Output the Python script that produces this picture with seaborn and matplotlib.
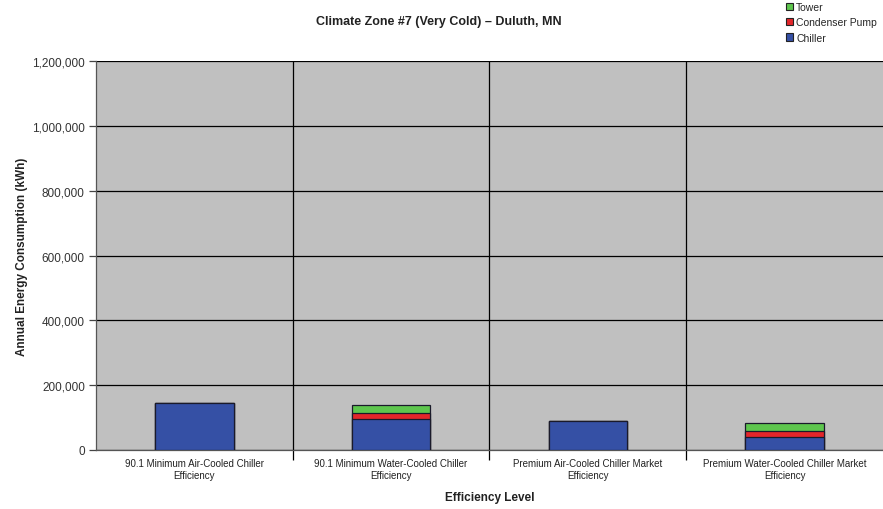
import matplotlib
matplotlib.use("Agg")
import matplotlib.pyplot as plt
from matplotlib.patches import Patch
from matplotlib.ticker import FuncFormatter, FixedLocator
import numpy as np
import pandas as pd
import seaborn as sns

# Annual energy consumption (kWh) by efficiency level
categories = [
    "90.1 Minimum Air-Cooled Chiller\nEfficiency",
    "90.1 Minimum Water-Cooled Chiller\nEfficiency",
    "Premium Air-Cooled Chiller Market\nEfficiency",
    "Premium Water-Cooled Chiller Market\nEfficiency",
]
chiller = [145000, 96000, 90000, 39000]
condenser_pump = [0, 18000, 0, 18500]
tower = [0, 25000, 0, 24500]

series_names = ["Tower", "Condenser Pump", "Chiller"]
colors = {"Chiller": "#3550A5", "Condenser Pump": "#E3262A", "Tower": "#5EC64E"}

sns.set_theme(style="white")
plt.rcParams["font.family"] = ["Liberation Sans", "DejaVu Sans"]

# Cumulative heights for stacking (drawn from tallest to shortest)
cum_chiller = np.array(chiller, dtype=float)
cum_pump = cum_chiller + np.array(condenser_pump, dtype=float)
cum_tower = cum_pump + np.array(tower, dtype=float)

df = pd.DataFrame({
    "category": categories,
    "Tower": cum_tower,
    "Condenser Pump": cum_pump,
    "Chiller": cum_chiller,
})

fig = plt.figure(figsize=(8.83, 5.10), dpi=100)
ax = fig.add_axes([0.1087, 0.1157, 0.8913, 0.7623])
ax.set_facecolor("#C0C0C0")

for name in series_names:
    sns.barplot(data=df, x="category", y=name, order=categories,
                color=colors[name], saturation=1, width=0.40,
                edgecolor="#1a1a2a", linewidth=0.9, ax=ax, zorder=3)

ax.set_ylim(0, 1200000)
ax.set_xlim(-0.5, 3.5)
ax.set_yticks(np.arange(0, 1200001, 200000))
ax.yaxis.set_major_formatter(FuncFormatter(lambda v, p: f"{int(v):,}"))
ax.yaxis.grid(True, color="black", linewidth=0.9, zorder=1)
ax.set_axisbelow(True)

# Vertical separators between categories
ax.xaxis.set_minor_locator(FixedLocator([0.5, 1.5, 2.5]))
ax.xaxis.grid(True, which="minor", color="black", linewidth=0.9)
ax.tick_params(axis="x", which="minor", length=7, width=0.9, color="black", direction="out", bottom=True)
ax.tick_params(axis="x", which="major", length=0, labelsize=7, pad=6, colors="#222222")
ax.tick_params(axis="y", which="major", length=5, width=0.9, color="#444444", direction="out",
               left=True, labelsize=8.5, pad=3, colors="#333333")

for s in ["top", "right"]:
    ax.spines[s].set_visible(False)
ax.spines["left"].set_color("#555555")
ax.spines["bottom"].set_color("#555555")
ax.spines["left"].set_linewidth(0.9)
ax.spines["bottom"].set_linewidth(0.9)

ax.set_xlabel("Efficiency Level", fontsize=8.5, fontweight="bold", labelpad=8, color="#222222")
ax.set_ylabel("Annual Energy Consumption (kWh)", fontsize=8.5, fontweight="bold", labelpad=3, color="#222222")
for lbl in ax.get_xticklabels():
    lbl.set_ha("center")

fig.text(0.497, 0.957, "Climate Zone #7 (Very Cold) \u2013 Duluth, MN",
         ha="center", va="center", fontsize=9, fontweight="bold", color="#222222")

handles = [Patch(facecolor=colors[n], edgecolor="#222222", linewidth=0.8, label=n) for n in series_names]
leg = fig.legend(handles=handles, loc="upper left", bbox_to_anchor=(0.885, 1.002),
                 frameon=False, fontsize=7.5, handlelength=0.7, handleheight=0.7,
                 handletextpad=0.3, labelspacing=0.5, borderaxespad=0)

fig.savefig("out.png", dpi=100, facecolor="white")
